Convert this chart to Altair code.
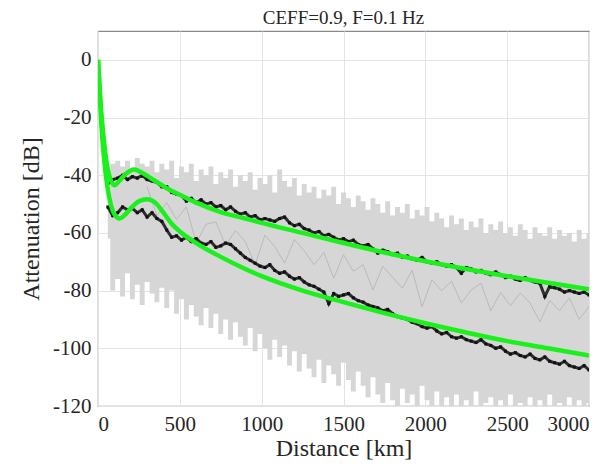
import altair as alt
import pandas as pd

# ---------------- data ----------------
# sampling positions (km) of the noisy envelope / measured curves
band_x = list(range(60, 3001, 30))

band_top = [
    -44, -36, -35, -37, -35, -38, -34, -36, -37, -35,
    -39, -36, -38, -35, -41, -37, -39, -36, -42, -38,
    -40, -37, -43, -39, -41, -38, -44, -40, -42, -39,
    -45, -41, -43, -40, -46, -38, -42, -44, -41, -47,
    -43, -46, -44, -48, -45, -47, -44, -50, -46, -48,
    -51, -47, -49, -52, -48, -50, -53, -49, -54, -51,
    -53, -50, -55, -52, -54, -51, -56, -53, -55, -58,
    -54, -57, -55, -59, -56, -58, -55, -60, -57, -59,
    -56, -60, -58, -61, -57, -59, -62, -58, -60, -61,
    -58, -62, -59, -61, -60, -63, -59, -62, -60,
]
band_bottom = [
    -62, -80, -76, -82, -74, -83, -78, -85, -77, -81,
    -84, -79, -86, -80, -88, -83, -90, -85, -89, -92,
    -86, -93, -88, -95, -90, -97, -91, -96, -99, -93,
    -101, -95, -100, -104, -97, -103, -99, -106, -101, -108,
    -102, -107, -110, -104, -112, -106, -109, -113, -105, -111,
    -115, -108, -113, -117, -110, -116, -119, -112, -118, -120,
    -114, -119, -116, -120, -113, -118, -120, -115, -120, -117,
    -120, -116, -120, -118, -120, -115, -120, -119, -117, -120,
    -118, -120, -116, -120, -119, -120, -117, -120, -118, -120,
    -116, -120, -119, -120, -117, -120, -118, -120, -119,
]

measured_upper = [
    -43, -41.5, -41, -40, -41.5, -40.5, -41, -40, -41.5, -42,
    -42.5, -44, -44, -46, -46.5, -47, -49, -48, -49.5, -48.5,
    -50, -49.5, -51, -50.5, -52, -51, -52.5, -53.5, -53, -54.5,
    -54, -55.5, -55, -55.5, -56, -55, -54.5, -56.5, -57.5, -57,
    -58.5, -59, -60, -59.5, -61, -60.5, -61.5, -62.5, -62, -63,
    -62.5, -64, -64.5, -64, -65.5, -67, -66, -66.5, -67.5, -67,
    -68.5, -68, -69, -69.5, -68.5, -70, -70.5, -70, -71, -71.5,
    -71, -72, -74, -72, -72.5, -73.5, -73, -74, -74.5, -73.5,
    -74.5, -75.5, -75, -76, -76.5, -75.5, -76.5, -77, -77.5, -82,
    -78.5, -79, -79.5, -80.5, -80, -80.5, -81, -80.5, -81.5,
]
measured_lower = [
    -51, -54, -53, -51, -52, -51.5, -53, -52, -54.5, -53,
    -55, -56, -59, -61.5, -61, -62.5, -61.5, -63, -62, -63.5,
    -64, -63, -65, -64.5, -63.5, -64, -65.5, -67, -68.5, -69.5,
    -70.5, -71.5, -72, -71, -73, -74, -73.5, -75, -76, -75.5,
    -77, -78, -78.5, -79.5, -80.5, -84.5, -81, -82, -81.5, -81,
    -82.5, -83.5, -84, -85, -85.5, -86, -87, -86.5, -88, -89,
    -89.5, -90, -91, -91.5, -92.5, -93, -92.5, -94, -95, -94.5,
    -96, -96.5, -96, -97, -97.5, -98, -97, -98.5, -99, -100,
    -99.5, -101, -102, -101.5, -102.5, -103, -102, -103.5, -104, -103,
    -104.5, -105, -105.5, -104.5, -106, -106.5, -107, -106, -107.5,
]

# darker grey raw trace between the curves
raw_x = list(range(300, 3001, 60))
raw_y = [
    -44, -54, -49.5, -55.3, -51, -63.5, -57, -56.2, -64.3, -59.2,
    -63, -71, -60.8, -64.7, -70.5, -62.3, -66.2, -71, -66.8, -75.7,
    -67.5, -73.3, -71, -79.8, -71.6, -75.4, -79.2, -72.9, -85.6, -76.3,
    -80, -76.7, -84.3, -79.8, -77.4, -87, -80.6, -85.2, -80.8, -84.3,
    -90.8, -83.4, -87, -82.5, -90, -85.5,
]

# smooth model curves (green)
model_upper_x = [0, 20, 40, 60, 80, 100, 130, 170, 220, 280, 350, 420, 500, 600,
                 750, 900, 1000, 1250, 1500, 1750, 2000, 2250, 2500, 2750, 3000]
model_upper_y = [0, -18, -30, -38, -42, -43.5, -42, -39.5, -38, -39.5, -42, -44.5,
                 -46.8, -49.5, -52.8, -55, -56.5, -60, -63.5, -66.8, -69.8, -72.5,
                 -75, -77.3, -79.5]
model_lower_x = [0, 20, 40, 60, 80, 100, 130, 160, 200, 250, 300, 350, 400, 450, 500,
                 600, 750, 900, 1000, 1250, 1500, 1750, 2000, 2250, 2500, 2750, 3000]
model_lower_y = [0, -22, -36, -45, -50.5, -53.5, -55, -54, -51.5, -49, -48.3, -49.5,
                 -53, -56.8, -59.5, -63.5, -68.3, -72.5, -75, -80, -84, -87.8, -91.3,
                 -94.5, -97.5, -100, -102.5]

x_ticks = [0, 500, 1000, 1500, 2000, 2500, 3000]
y_ticks = [-120, -100, -80, -60, -40, -20, 0]

# ---------------- tables ----------------
band_df = pd.DataFrame({"x": band_x, "top": band_top, "bottom": band_bottom})
meas_df = pd.concat([
    pd.DataFrame({"x": band_x, "y": measured_upper, "s": "upper"}),
    pd.DataFrame({"x": band_x, "y": measured_lower, "s": "lower"}),
])
raw_df = pd.DataFrame({"x": raw_x, "y": raw_y})
model_df = pd.concat([
    pd.DataFrame({"x": model_upper_x, "y": model_upper_y, "s": "upper"}),
    pd.DataFrame({"x": model_lower_x, "y": model_lower_y, "s": "lower"}),
])

SERIF = "Liberation Serif, DejaVu Serif, serif"
INK = "#262626"
axis_style = dict(
    grid=True,
    gridColor="#e4e4e4",
    ticks=False,
    domain=False,
    labelFont=SERIF,
    labelFontSize=21,
    labelColor=INK,
    labelPadding=7,
    labelExpr="datum.value + ''",
    titleFont=SERIF,
    titleFontSize=24,
    titleFontWeight="normal",
    titleColor=INK,
)

xs = alt.Scale(domain=[0, 3000], nice=False)
ys = alt.Scale(domain=[-120, 10], nice=False)
x_enc = alt.X("x:Q", scale=xs,
              axis=alt.Axis(values=x_ticks, title="Distance [km]", titlePadding=2,
                            **axis_style))
y_axis = alt.Axis(values=y_ticks, title="Attenuation [dB]", titlePadding=9, **axis_style)

band = alt.Chart(band_df).mark_area(color="#d6d6d6", interpolate="step", clip=True).encode(
    x=x_enc,
    y=alt.Y("top:Q", scale=ys, axis=y_axis),
    y2="bottom:Q",
)
raw = alt.Chart(raw_df).mark_line(color="#bababa", strokeWidth=1, clip=True).encode(
    x=x_enc, y=alt.Y("y:Q", scale=ys, axis=y_axis)
)
meas = alt.Chart(meas_df).mark_line(
    color="#1c1c1c", strokeWidth=3, opacity=0.9, clip=True,
    point=alt.OverlayMarkDef(shape="square", size=9, filled=True, color="#111111"),
).encode(
    x=x_enc, y=alt.Y("y:Q", scale=ys, axis=y_axis), detail="s:N"
)
model = alt.Chart(model_df).mark_line(color="#1cf01c", strokeWidth=4.5,
                                      interpolate="monotone", clip=True).encode(
    x=x_enc, y=alt.Y("y:Q", scale=ys, axis=y_axis), detail="s:N"
)

chart = (
    alt.layer(band, raw, meas, model)
    .properties(
        width=491,
        height=375,
        autosize=alt.AutoSizeParams(type="none"),
        padding={"left": 90, "top": 23, "right": 14, "bottom": 64},
        title=alt.TitleParams(
            "CEFF=0.9, F=0.1 Hz",
            font=SERIF,
            fontSize=19,
            fontWeight="normal",
            color=INK,
            offset=3,
        ),
    )
    .configure(font=SERIF)
    .configure_view(stroke="#8a8a8a", strokeWidth=1.2)
)

chart.save("out.html", embed_options={"renderer": "svg", "actions": False})
